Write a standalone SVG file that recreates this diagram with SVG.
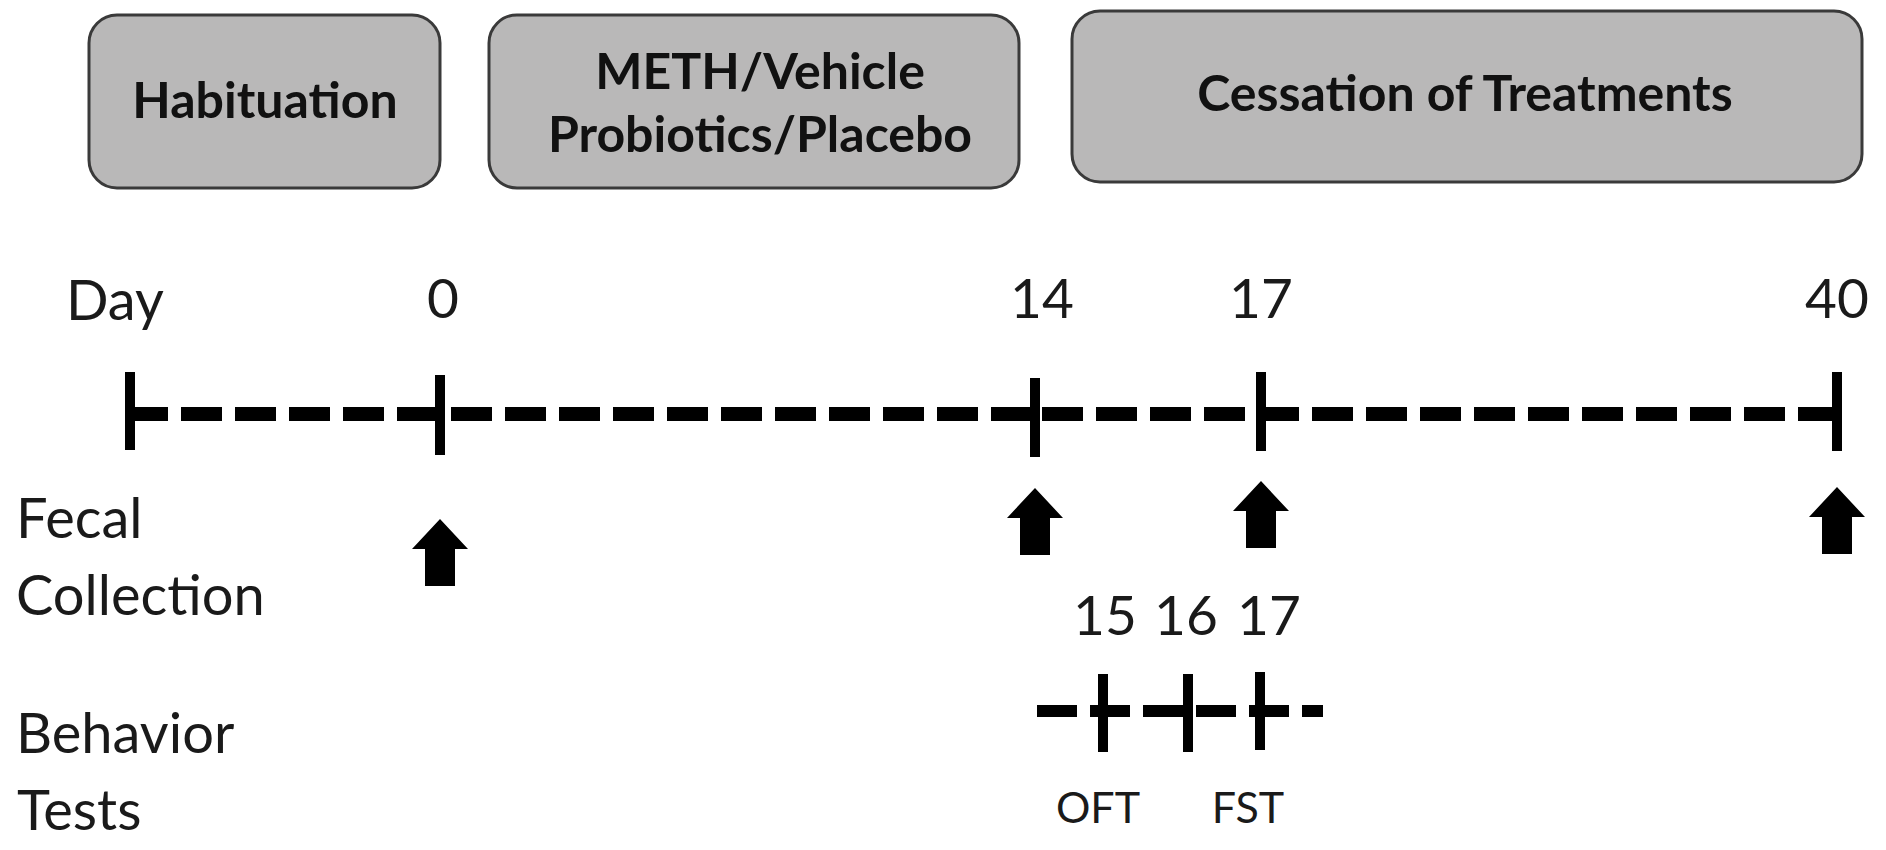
<svg xmlns="http://www.w3.org/2000/svg" width="1886" height="850" viewBox="0 0 1886 850">
<defs>
<style>
.box{fill:#b9b8b8;stroke:#3a3a3a;stroke-width:3}
.bt{font-family:Lato,"Open Sans","Liberation Sans",sans-serif;font-weight:bold;font-size:50px;fill:#111;text-anchor:middle}
.lbl{font-family:Lato,"Open Sans","Liberation Sans",sans-serif;font-size:56px;fill:#1a1a1a}
.num{font-family:Lato,"Open Sans","Liberation Sans",sans-serif;font-size:55px;fill:#1a1a1a;text-anchor:middle}
.sm{font-family:Lato,"Open Sans","Liberation Sans",sans-serif;font-size:43px;fill:#1a1a1a;text-anchor:middle}
.dash{stroke:#000;stroke-width:14;fill:none;stroke-dasharray:41 13}
.dash2{stroke:#000;stroke-width:12;fill:none;stroke-dasharray:40 13}
.tick{stroke:#000;stroke-width:10;fill:none}
.arr{fill:#000}
</style>
</defs>
<rect width="1886" height="850" fill="#fff"/>
<g id="node-habituation">
<rect class="box" x="89" y="15" width="351" height="173" rx="28"/>
<text class="bt" x="265" y="118">Habituation</text>
</g>
<g id="node-treatment">
<rect class="box" x="489" y="15" width="530" height="173" rx="28"/>
<text class="bt" x="760" y="89">METH/Vehicle</text>
<text class="bt" x="760" y="152">Probiotics/Placebo</text>
</g>
<g id="node-cessation">
<rect class="box" x="1072" y="11" width="790" height="171" rx="28"/>
<text class="bt" x="1465" y="111">Cessation of Treatments</text>
</g>
<g id="labels">
<text class="lbl" x="66" y="320">Day</text>
<text class="num" x="443" y="318">0</text>
<text class="num" x="1042" y="318">14</text>
<text class="num" x="1261" y="318">17</text>
<text class="num" x="1837" y="318">40</text>
<text class="lbl" x="16" y="538">Fecal</text>
<text class="lbl" x="16" y="615">Collection</text>
<text class="lbl" x="16" y="753">Behavior</text>
<text class="lbl" x="17" y="830">Tests</text>
<text class="num" x="1105" y="635">15</text>
<text class="num" x="1186" y="635">16</text>
<text class="num" x="1269" y="635">17</text>
<text class="sm" x="1098" y="823">OFT</text>
<text class="sm" x="1248" y="823">FST</text>
</g>
<g id="connectors">
<line class="dash" x1="127" y1="414" x2="440" y2="414"/>
<line class="dash" x1="451" y1="414" x2="1035" y2="414"/>
<line class="dash" x1="1042" y1="414" x2="1261" y2="414"/>
<line class="dash" x1="1258" y1="414" x2="1837" y2="414"/>
<line class="tick" x1="130" y1="372" x2="130" y2="450"/>
<line class="tick" x1="440" y1="375" x2="440" y2="455"/>
<line class="tick" x1="1035" y1="378" x2="1035" y2="457"/>
<line class="tick" x1="1261" y1="372" x2="1261" y2="451"/>
<line class="tick" x1="1837" y1="372" x2="1837" y2="451"/>
<line class="dash2" x1="1037" y1="711" x2="1323" y2="711"/>
<line class="tick" x1="1103" y1="674" x2="1103" y2="752"/>
<line class="tick" x1="1188" y1="674" x2="1188" y2="752"/>
<line class="tick" x1="1260" y1="672" x2="1260" y2="750"/>
<path class="arr" d="M440 519 L468 549 L455 549 L455 586 L425 586 L425 549 L412 549 Z"/>
<path class="arr" d="M1035 488 L1063 518 L1050 518 L1050 555 L1020 555 L1020 518 L1007 518 Z"/>
<path class="arr" d="M1261 481 L1289 511 L1276 511 L1276 548 L1246 548 L1246 511 L1233 511 Z"/>
<path class="arr" d="M1837 487 L1865 517 L1852 517 L1852 554 L1822 554 L1822 517 L1809 517 Z"/>
</g>
</svg>
